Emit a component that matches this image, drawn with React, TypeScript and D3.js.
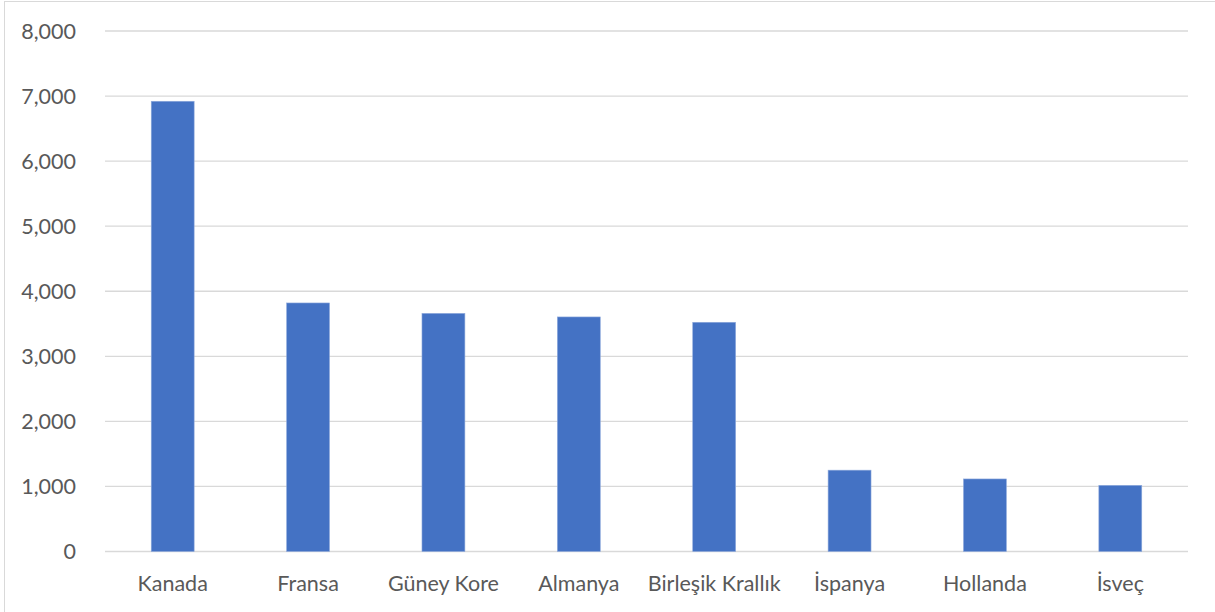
import React from "react";
import * as d3 from "d3";

const categories = ["Kanada", "Fransa", "Güney Kore", "Almanya", "Birleşik Krallık", "İspanya", "Hollanda", "İsveç"];
const values = [6920, 3820, 3660, 3605, 3523, 1250, 1115, 1017];
const yTicks = [0, 1000, 2000, 3000, 4000, 5000, 6000, 7000, 8000];

const W = 1215;
const H = 612;
const left = 105;
const right = 1188;
const top = 31;
const bottom = 551.5;
const FONT = "Lato, 'Open Sans', sans-serif";

export default function App() {
  const x = d3.scaleBand<string>().domain(categories).range([left, right]).paddingInner(0.683).paddingOuter(0.3415);
  const y = d3.scaleLinear().domain([0, 8000]).range([bottom, top]);
  const fmt = d3.format(",");
  return (
    <svg width={W} height={H} style={{ position: "absolute", left: 0, top: 0, background: "#fff" }}>
      <rect x={4.5} y={1.5} width={W + 20} height={H + 20} fill="#fff" stroke="#d9d9d9" strokeWidth={1} />
      {yTicks.map((t) => (
        <g key={t}>
          <line x1={left} x2={right} y1={y(t)} y2={y(t)} stroke="#d9d9d9" strokeWidth={1.3} />
          <text x={76} y={y(t)} dy="0.35em" textAnchor="end" fontFamily={FONT} fontSize={21.5} fill="#595959">
            {fmt(t)}
          </text>
        </g>
      ))}
      {categories.map((c, i) => (
        <rect key={c} x={x(c)} y={y(values[i])} width={x.bandwidth()} height={y(0) - y(values[i])} fill="#4472C4" stroke="#8faadc" strokeWidth={0.6} />
      ))}
      {categories.map((c) => (
        <text key={c} x={(x(c) as number) + x.bandwidth() / 2} y={583} dy="0.35em" textAnchor="middle" fontFamily={FONT} fontSize={21.5} fill="#595959">
          {c}
        </text>
      ))}
    </svg>
  );
}
